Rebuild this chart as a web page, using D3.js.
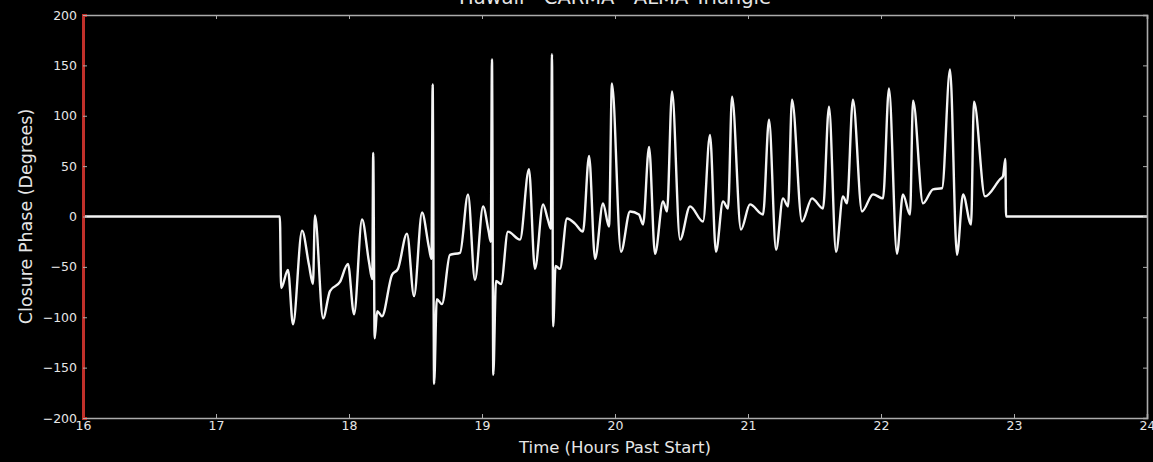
<!DOCTYPE html>
<html>
<head>
<meta charset="utf-8">
<script src="https://cdn.jsdelivr.net/npm/d3@7"></script>
<style>
  html, body { margin: 0; padding: 0; background: #000; }
  svg { display: block; }
  text { font-family: "DejaVu Sans", sans-serif; }
</style>
</head>
<body>
<svg id="chart" width="1153" height="462"></svg>
<script>
// ---- data ----
const title = "Hawaii - CARMA - ALMA Triangle";
const xLabel = "Time (Hours Past Start)";
const yLabel = "Closure Phase (Degrees)";
const xTicks = [16, 17, 18, 19, 20, 21, 22, 23, 24];
const yTicks = [-200, -150, -100, -50, 0, 50, 100, 150, 200];

const timeHours = [
  16, 17.48, 17.49, 17.541, 17.579, 17.647, 17.699, 17.729, 17.744, 17.805,
  17.857, 17.932, 17.992, 18.038, 18.098, 18.150, 18.175, 18.182, 18.193, 18.212,
  18.248, 18.323, 18.368, 18.436, 18.489, 18.549, 18.600, 18.620, 18.629, 18.640,
  18.660, 18.699, 18.759, 18.835, 18.895, 18.947, 19.008, 19.050, 19.066, 19.075,
  19.085, 19.105, 19.143, 19.195, 19.286, 19.353, 19.398, 19.459, 19.495, 19.518,
  19.526, 19.535, 19.553, 19.586, 19.639, 19.699, 19.759, 19.805, 19.850, 19.910,
  19.955, 19.977, 20.045, 20.113, 20.180, 20.211, 20.256, 20.301, 20.361, 20.391,
  20.429, 20.489, 20.564, 20.662, 20.714, 20.759, 20.812, 20.850, 20.880, 20.947,
  21.015, 21.113, 21.158, 21.211, 21.263, 21.301, 21.331, 21.406, 21.481, 21.564,
  21.609, 21.662, 21.714, 21.744, 21.789, 21.857, 21.940, 22.015, 22.060, 22.120,
  22.165, 22.218, 22.241, 22.316, 22.391, 22.459, 22.519, 22.571, 22.617, 22.677,
  22.699, 22.782, 22.895, 22.917, 22.935, 22.94, 24
];
const closurePhase = [
  0, 0, -71, -53, -107, -14, -48, -67, 1, -101,
  -74, -65, -47, -97, -3, -45, -62, 63, -121, -94,
  -99, -58, -52, -17, -79, 4, -30, -42, 131, -166,
  -82, -87, -38, -36, 22, -63, 10, -15, -25, 156,
  -157, -64, -67, -15, -23, 47, -52, 12, -3, -12,
  161, -109, -49, -52, -2, -7, -15, 60, -42, 13,
  -10, 132, -35, 5, 2, -8, 69, -37, 15, 5,
  124, -23, 10, -5, 81, -35, 15, 8, 119, -13,
  12, 2, 96, -33, 18, 10, 116, -5, 18, 8,
  109, -35, 20, 13, 116, 5, 22, 18, 127, -37,
  22, 2, 115, 13, 27, 28, 146, -38, 22, -8,
  114, 20, 37, 40, 57, 0, 0
];

// ---- layout ----
const svg = d3.select("#chart");
const W = 1153, H = 462;
const m = { left: 83, right: 6, top: 15, bottom: 44 };
const x = d3.scaleLinear().domain([16, 24]).range([m.left, W - m.right]);
const y = d3.scaleLinear().domain([-200, 200]).range([H - m.bottom, m.top]);

svg.append("rect").attr("width", W).attr("height", H).attr("fill", "#000");

const axisColor = "#ababab";
const labelColor = "#e6e6e6";

// line
const pts = timeHours.map((t, i) => [t, closurePhase[i]]);
const line = d3.line()
  .x(d => x(d[0]))
  .y(d => y(d[1]))
  .curve(d3.curveMonotoneX);

svg.append("path")
  .attr("d", line(pts))
  .attr("fill", "none")
  .attr("stroke", "#f4f4f4")
  .attr("stroke-width", 2.4)
  .attr("stroke-linejoin", "round");

// axes (ticks inward, matplotlib style)
const tickLen = 4;
const gB = svg.append("g").attr("transform", `translate(0,${y(-200)})`)
  .call(d3.axisBottom(x).tickValues(xTicks).tickSize(-tickLen).tickPadding(3).tickFormat(d3.format("d")));
const gT = svg.append("g").attr("transform", `translate(0,${y(200)})`)
  .call(d3.axisTop(x).tickValues(xTicks).tickSize(-tickLen).tickFormat(""));
const gL = svg.append("g").attr("transform", `translate(${x(16)},0)`)
  .call(d3.axisLeft(y).tickValues(yTicks).tickSize(-tickLen).tickPadding(6)
    .tickFormat(d => d < 0 ? "\u2212" + Math.abs(d) : String(d)));
const gR = svg.append("g").attr("transform", `translate(${x(24)},0)`)
  .call(d3.axisRight(y).tickValues(yTicks).tickSize(-tickLen).tickFormat(""));

[gB, gT, gL, gR].forEach(g => {
  g.selectAll(".domain").attr("stroke", axisColor).attr("stroke-width", 1.6);
  g.selectAll(".tick line").attr("stroke", axisColor).attr("stroke-width", 1);
  g.selectAll(".tick text").attr("fill", labelColor).style("font-size", "12.5px")
    .style("font-family", "'DejaVu Sans', sans-serif");
});
gL.select(".domain").attr("stroke", "#c0302a").attr("stroke-width", 3);

// titles
svg.append("text")
  .attr("x", (x(16) + x(24)) / 2)
  .attr("y", 4)
  .attr("text-anchor", "middle")
  .attr("fill", labelColor)
  .style("font-size", "19.5px")
  .text(title);

svg.append("text")
  .attr("x", (x(16) + x(24)) / 2)
  .attr("y", 453)
  .attr("text-anchor", "middle")
  .attr("fill", labelColor)
  .style("font-size", "16.5px")
  .text(xLabel);

svg.append("text")
  .attr("transform", `translate(32,${y(0)}) rotate(-90)`)
  .attr("text-anchor", "middle")
  .attr("fill", labelColor)
  .style("font-size", "17.5px")
  .text(yLabel);
</script>
</body>
</html>
